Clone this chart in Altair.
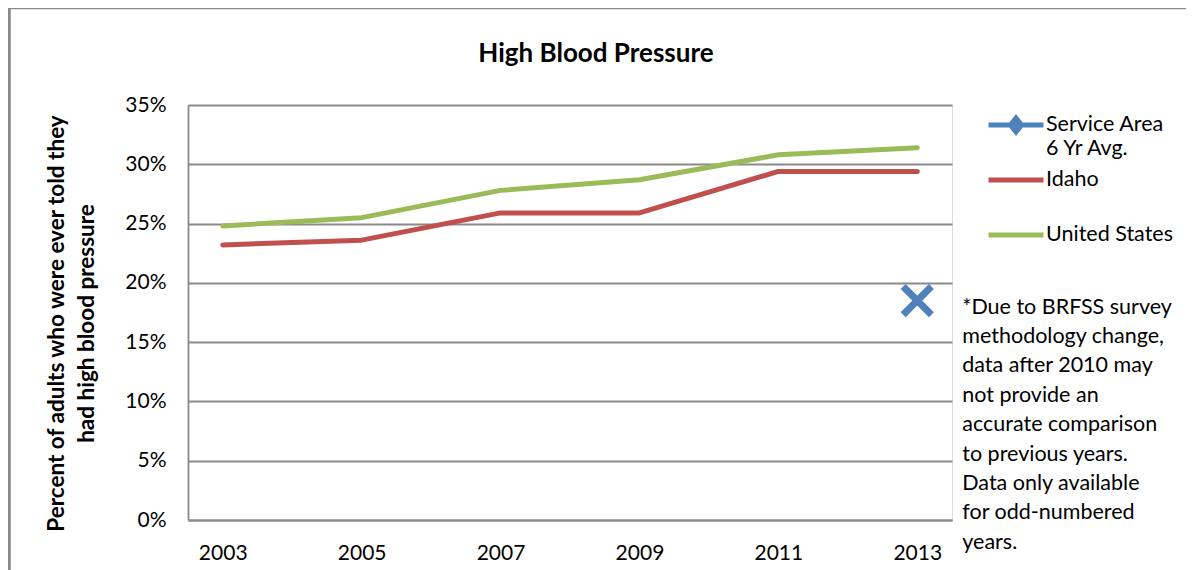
import altair as alt
import pandas as pd

# ---- data ----
years = ["2003", "2005", "2007", "2009", "2011", "2013"]
idaho = [0.232, 0.236, 0.259, 0.259, 0.294, 0.294]
united_states = [0.248, 0.255, 0.278, 0.287, 0.308, 0.314]
service_year = ["2013"]
service_value = [0.185]
series = ["Service Area 6 Yr  Avg.", "Idaho", "United States"]
colors = ["#4F81BD", "#C0504D", "#9BBB59"]
y_ticks = [0.0, 0.05, 0.10, 0.15, 0.20, 0.25, 0.30, 0.35]
y_title = ["Percent of adults who were ever told they", "had high blood pressure"]
note_lines = [
    "*Due to BRFSS survey",
    "methodology change,",
    "data after 2010 may",
    "not provide an",
    "accurate comparison",
    "to previous years.",
    "Data only available",
    "for odd-numbered",
    "years.",
]

FONT = "Lato"
GRID = "#8a8a8a"

lines_df = pd.DataFrame({
    "Year": years * 2,
    "Value": idaho + united_states,
    "Series": ["Idaho"] * len(years) + ["United States"] * len(years),
})
sa_df = pd.DataFrame({"Year": service_year, "Value": service_value, "Series": [series[0]]})
note_df = pd.DataFrame({"Year": ["2013"], "Value": [0.185], "Note": [note_lines]})

xscale = alt.Scale(type="point", domain=years, padding=0.25)
yscale = alt.Scale(domain=[0, 0.35], nice=False, zero=True)

x_enc = alt.X(
    "Year:N", scale=xscale, sort=years,
    axis=alt.Axis(title=None, labelAngle=0, ticks=False, grid=False,
                  domain=True, domainColor=GRID, domainWidth=1.8,
                  labelFont=FONT, labelFontSize=21, labelColor="black",
                  labelPadding=22),
)
y_enc = alt.Y(
    "Value:Q", scale=yscale,
    axis=alt.Axis(values=y_ticks, format=".0%", ticks=False, grid=True,
                  gridColor=GRID, gridWidth=1.8, domain=True,
                  domainColor=GRID, domainWidth=1.8,
                  labelFont=FONT, labelFontSize=21, labelColor="black",
                  labelPadding=22,
                  title=y_title, titleFont=FONT, titleFontSize=22.5,
                  titleFontWeight="bold", titleColor="black",
                  titleAngle=270, titleAlign="center", titleBaseline="middle",
                  titleX=-132, titleY=218, titleLineHeight=30),
)

legend = alt.Legend(
    title=None, orient="none", legendX=807, legendY=-1,
    symbolType={"expr": "datum.value == 'Service Area 6 Yr  Avg.' ? "
                        "'M-1.5,0H1.5M0,-0.375L0.3,0L0,0.375L-0.3,0Z' : 'M-1.5,0H1.5'"},
    symbolSize=1344, symbolStrokeWidth=5,
    labelFont=FONT, labelFontSize=21.5, labelColor="black", labelOffset=9,
    labelLimit=300, rowPadding=0,
    labelExpr="datum.label == 'Service Area 6 Yr  Avg.' ? "
              "['Service Area', '6 Yr  Avg.'] : [datum.label, '']",
)
color_enc = alt.Color("Series:N", scale=alt.Scale(domain=series, range=colors),
                      legend=legend)

lines = alt.Chart(lines_df).mark_line(strokeWidth=5, strokeCap="round",
                                      strokeJoin="round").encode(
    x=x_enc, y=y_enc, color=color_enc
)

marker = alt.Chart(sa_df).mark_point(
    shape="M-1,-1L1,1M-1,1L1,-1", filled=False, size=800, strokeWidth=7,
    opacity=1,
).encode(x=alt.X("Year:N", scale=xscale, sort=years),
         y=alt.Y("Value:Q", scale=yscale),
         color=color_enc)

note = alt.Chart(note_df).mark_text(
    align="left", baseline="top", font=FONT, fontSize=21.5, color="black",
    lineHeight=29.4, dx=45, dy=-4,
).encode(x=alt.X("Year:N", scale=xscale, sort=years),
         y=alt.Y("Value:Q", scale=yscale),
         text="Note:N")

frame_top = alt.Chart(note_df).mark_rule(color=GRID, strokeWidth=2.5).encode(
    x=alt.value(-181), x2=alt.value(1010), y=alt.value(-97))
frame_left = alt.Chart(note_df).mark_rule(color=GRID, strokeWidth=3.5).encode(
    x=alt.value(-179), y=alt.value(-98), y2=alt.value(470))

chart = alt.layer(lines, marker, note, frame_top, frame_left).properties(
    width=764, height=415,
    title=alt.TitleParams("High Blood Pressure", font=FONT, fontSize=26,
                          fontWeight="bold", color="black", anchor="middle",
                          dx=26, offset=-62),
    autosize=alt.AutoSizeParams(type="none"),
    padding={"left": 180, "top": 97, "right": 234, "bottom": 50},
).configure_view(stroke=None).configure(background="white")

chart.save("out.html", embed_options={"renderer": "svg", "actions": False})
